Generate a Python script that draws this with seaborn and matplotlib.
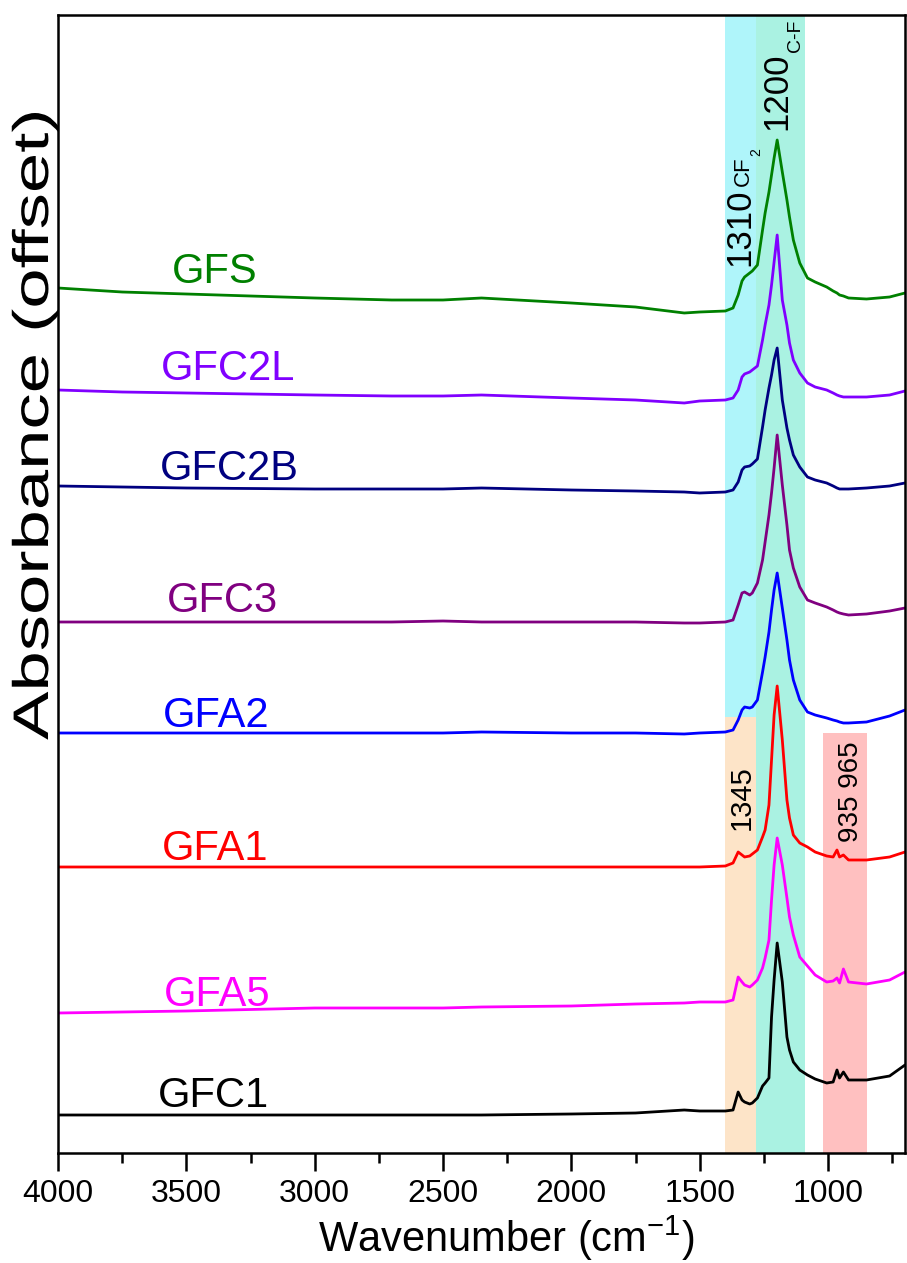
import matplotlib
matplotlib.use("Agg")
import matplotlib.pyplot as plt
from matplotlib import patheffects
from matplotlib.transforms import Affine2D
from matplotlib.ticker import MultipleLocator
import numpy as np
import pandas as pd
import seaborn as sns

# Wavenumber grid (cm-1) shared by all spectra
wavenumber = [4000, 3750, 3500, 3000, 2700, 2500, 2350, 2000, 1750, 1560,
              1500, 1400, 1370, 1350, 1335, 1325, 1305, 1295, 1275, 1255,
              1245, 1230, 1220, 1210, 1198, 1178, 1160, 1150, 1135, 1110,
              1080, 1050, 1005, 980, 965, 955, 940, 920, 850, 760, 700]

# Stacked absorbance (arbitrary units, offsets included)
gfs = [0.865, 0.861, 0.859, 0.855, 0.853, 0.853, 0.855, 0.850, 0.846, 0.840,
       0.841, 0.842, 0.845, 0.858, 0.872, 0.876, 0.880, 0.882, 0.888, 0.923,
       0.940, 0.961, 0.978, 0.995, 1.013, 0.981, 0.953, 0.936, 0.913, 0.890,
       0.875, 0.871, 0.866, 0.862, 0.860, 0.858, 0.857, 0.855, 0.854, 0.856, 0.860]
gfc2l = [0.763, 0.761, 0.760, 0.758, 0.757, 0.757, 0.758, 0.755, 0.753, 0.750,
         0.752, 0.753, 0.755, 0.763, 0.776, 0.779, 0.781, 0.783, 0.787, 0.813,
         0.828, 0.848, 0.868, 0.891, 0.918, 0.853, 0.828, 0.810, 0.793, 0.780,
         0.770, 0.766, 0.763, 0.760, 0.758, 0.757, 0.756, 0.756, 0.756, 0.758, 0.762]
gfc2b = [0.667, 0.666, 0.665, 0.664, 0.664, 0.664, 0.665, 0.663, 0.662, 0.661,
         0.660, 0.661, 0.663, 0.671, 0.683, 0.686, 0.687, 0.689, 0.694, 0.726,
         0.743, 0.765, 0.778, 0.793, 0.805, 0.753, 0.725, 0.713, 0.698, 0.686,
         0.676, 0.673, 0.670, 0.667, 0.665, 0.664, 0.664, 0.664, 0.665, 0.667, 0.670]
gfc3 = [0.531, 0.531, 0.531, 0.531, 0.531, 0.532, 0.531, 0.531, 0.531, 0.530,
        0.530, 0.531, 0.533, 0.548, 0.560, 0.561, 0.558, 0.560, 0.570, 0.593,
        0.611, 0.638, 0.660, 0.685, 0.718, 0.668, 0.628, 0.603, 0.585, 0.566,
        0.553, 0.550, 0.546, 0.543, 0.541, 0.540, 0.539, 0.538, 0.539, 0.542, 0.545]
gfa2 = [0.420, 0.420, 0.420, 0.420, 0.420, 0.420, 0.421, 0.420, 0.420, 0.419,
        0.420, 0.421, 0.423, 0.433, 0.443, 0.446, 0.445, 0.446, 0.453, 0.481,
        0.496, 0.521, 0.543, 0.563, 0.580, 0.545, 0.513, 0.493, 0.473, 0.453,
        0.441, 0.438, 0.435, 0.433, 0.432, 0.431, 0.430, 0.430, 0.431, 0.437, 0.443]
gfa1 = [0.286, 0.286, 0.286, 0.286, 0.286, 0.286, 0.286, 0.286, 0.286, 0.286,
        0.286, 0.287, 0.290, 0.301, 0.298, 0.296, 0.297, 0.299, 0.303, 0.316,
        0.323, 0.348, 0.393, 0.438, 0.467, 0.413, 0.353, 0.335, 0.318, 0.310,
        0.306, 0.301, 0.297, 0.296, 0.303, 0.296, 0.298, 0.293, 0.293, 0.296, 0.301]
gfa5 = [0.140, 0.141, 0.142, 0.145, 0.145, 0.145, 0.146, 0.147, 0.149, 0.150,
        0.151, 0.151, 0.153, 0.176, 0.171, 0.168, 0.166, 0.168, 0.173, 0.185,
        0.195, 0.213, 0.253, 0.288, 0.315, 0.288, 0.255, 0.236, 0.218, 0.196,
        0.187, 0.178, 0.171, 0.172, 0.175, 0.170, 0.184, 0.171, 0.169, 0.173, 0.181]
gfc1 = [0.038, 0.038, 0.038, 0.038, 0.038, 0.038, 0.038, 0.039, 0.040, 0.043,
        0.042, 0.042, 0.043, 0.061, 0.053, 0.051, 0.049, 0.050, 0.055, 0.067,
        0.070, 0.075, 0.136, 0.173, 0.210, 0.171, 0.116, 0.103, 0.091, 0.083,
        0.078, 0.074, 0.070, 0.071, 0.083, 0.075, 0.081, 0.073, 0.073, 0.077, 0.088]

samples = ["GFS", "GFC2L", "GFC2B", "GFC3", "GFA2", "GFA1", "GFA5", "GFC1"]
spectra = [gfs, gfc2l, gfc2b, gfc3, gfa2, gfa1, gfa5, gfc1]
colors = ["#008000", "#8000FF", "#000080", "#800080",
          "#0000FF", "#FF0000", "#FF00FF", "#000000"]

# Sample name positions (wavenumber, absorbance of text baseline)
label_x = [3389, 3338, 3334, 3361, 3385, 3389, 3381, 3396]
label_y = [0.870, 0.773, 0.673, 0.541, 0.426, 0.293, 0.147, 0.046]

df = pd.concat(
    [pd.DataFrame({"wavenumber": wavenumber, "absorbance": s, "sample": name})
     for name, s in zip(samples, spectra)],
    ignore_index=True,
)


class StretchAlong(patheffects.AbstractPathEffect):
    """Widen glyphs along the writing direction of a text."""

    def __init__(self, factor):
        super().__init__()
        self._factor = factor

    def draw_path(self, renderer, gc, tpath, affine, rgbFace=None):
        renderer.draw_path(gc, tpath, Affine2D().scale(self._factor, 1.0) + affine,
                           rgbFace)


sns.set_style("ticks")
plt.rcParams["font.family"] = ["Liberation Sans", "DejaVu Sans"]
plt.rcParams["mathtext.fontset"] = "custom"
plt.rcParams["mathtext.rm"] = "Liberation Sans"
for key in ["text.color", "axes.labelcolor", "xtick.color", "ytick.color",
            "axes.edgecolor"]:
    plt.rcParams[key] = "black"

fig = plt.figure(figsize=(9.07, 12.63), dpi=100)
ax = fig.add_axes([58 / 907, 110 / 1263, 847 / 907, 1138 / 1263])

# Highlighted spectral regions
ax.axvspan(1400, 1280, ymin=0.383, ymax=1.0, color="#AFF5FA", lw=0, zorder=0)
ax.axvspan(1400, 1280, ymin=0.0, ymax=0.383, color="#FDE4C8", lw=0, zorder=0)
ax.axvspan(1280, 1090, ymin=0.0, ymax=1.0, color="#AAF2E2", lw=0, zorder=0)
ax.axvspan(1020, 850, ymin=0.0, ymax=0.369, color="#FFC0C0", lw=0, zorder=0)

sns.lineplot(data=df, x="wavenumber", y="absorbance", hue="sample",
             hue_order=samples, palette=dict(zip(samples, colors)),
             estimator=None, sort=False, legend=False, linewidth=2.0, ax=ax,
             zorder=2)

for name, c, x, y in zip(samples, colors, label_x, label_y):
    ax.text(x, y, name, color=c, fontsize=30, ha="center", va="baseline")

# Band annotations
ax.text(1344, 0.926, "1310", rotation=90, fontsize=25, ha="center", va="center")
ax.text(1330, 0.982, "CF", rotation=90, fontsize=16, ha="center", va="center")
ax.text(1278, 1.001, "2", rotation=90, fontsize=10, ha="center", va="center")
ax.text(1200, 1.062, "1200", rotation=90, fontsize=25, ha="center", va="center")
ax.text(1126, 1.117, "C-F", rotation=90, fontsize=14, ha="center", va="center")
ax.text(1337, 0.355, "1345", rotation=90, fontsize=21, ha="center", va="center")
ax.text(912, 0.361, "935 965", rotation=90, fontsize=20, ha="center", va="center")

ax.set_xlim(4000, 700)
ax.set_ylim(0, 1.138)
ax.xaxis.set_major_locator(MultipleLocator(500))
ax.xaxis.set_minor_locator(MultipleLocator(250))
ax.set_yticks([])
ax.tick_params(axis="x", which="major", direction="out", length=13, width=1.8,
               labelsize=23, pad=6, top=False)
ax.tick_params(axis="x", which="minor", direction="out", length=7, width=1.8,
               top=False)
for sp in ax.spines.values():
    sp.set_linewidth(1.8)
    sp.set_color("black")

ax.set_xlabel(r"Wavenumber (cm$\mathregular{^{-1}}$)", fontsize=30)
ax.xaxis.set_label_coords(0.529, -0.0536)

ylab = ax.set_ylabel("Absorbance (offset)", fontsize=36)
ylab.set_rotation_mode("anchor")
ylab.set_horizontalalignment("left")
ylab.set_verticalalignment("baseline")
ylab.set_path_effects([StretchAlong(1.45)])
ax.yaxis.set_label_coords(-0.0118, 0.363)

fig.savefig("out.png", dpi=100)
